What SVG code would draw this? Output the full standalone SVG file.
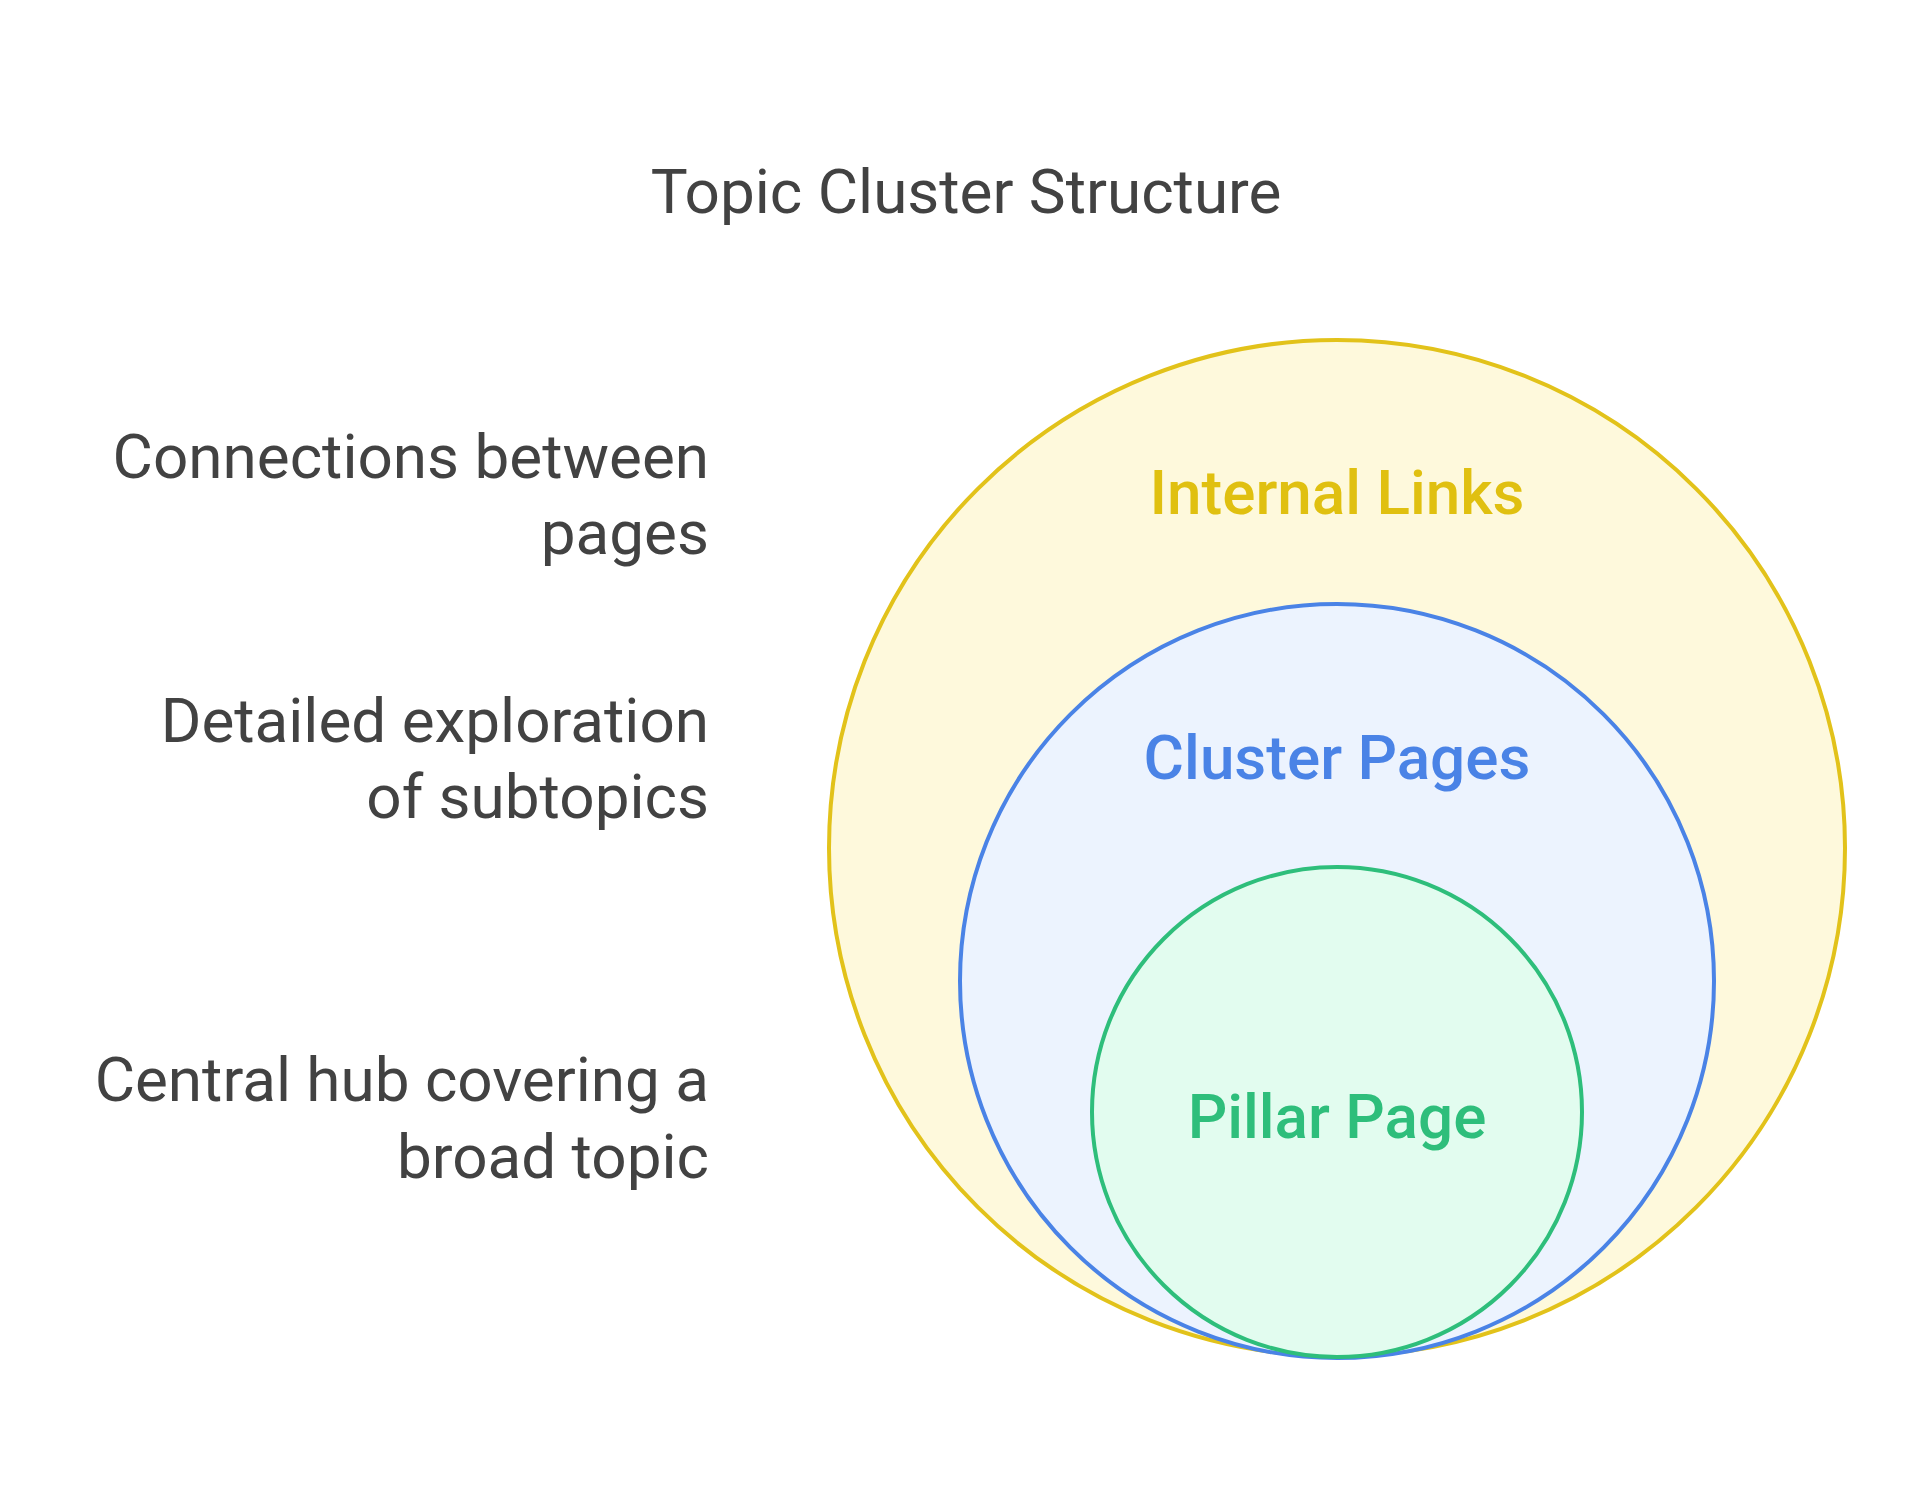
<svg xmlns="http://www.w3.org/2000/svg" width="1920" height="1509" viewBox="0 0 1920 1509">
<style>
text{font-family:Roboto,"Liberation Sans",sans-serif;font-size:62px}
.d{fill:#424242;text-anchor:end}
.c{text-anchor:middle}
.m{font-weight:500}
</style>
<rect width="1920" height="1509" fill="#fff"/>
<text class="c" x="966" y="213" fill="#424242">Topic Cluster Structure</text>
<g id="internal-links"><circle cx="1337" cy="848" r="508" fill="#FEF9DC" stroke="#E2C21A" stroke-width="4"/><text class="c m" x="1337" y="514" fill="#E0C010">Internal Links</text></g>
<g id="cluster-pages"><circle cx="1337" cy="981" r="377" fill="#ECF3FE" stroke="#4A83E6" stroke-width="4"/><text class="c m" x="1337" y="779" fill="#4A83E6">Cluster Pages</text></g>
<g id="pillar-page"><circle cx="1337" cy="1112" r="245" fill="#E2FCEF" stroke="#2EBE7B" stroke-width="4"/><text class="c m" x="1337" y="1138" fill="#2EBE7B">Pillar Page</text></g>
<g id="desc1"><text class="d" x="709" y="478">Connections between</text><text class="d" x="709" y="554">pages</text></g>
<g id="desc2"><text class="d" x="709" y="742">Detailed exploration</text><text class="d" x="709" y="818">of subtopics</text></g>
<g id="desc3"><text class="d" x="709" y="1101">Central hub covering a</text><text class="d" x="709" y="1178">broad topic</text></g>
<g id="connectors"/>
</svg>
